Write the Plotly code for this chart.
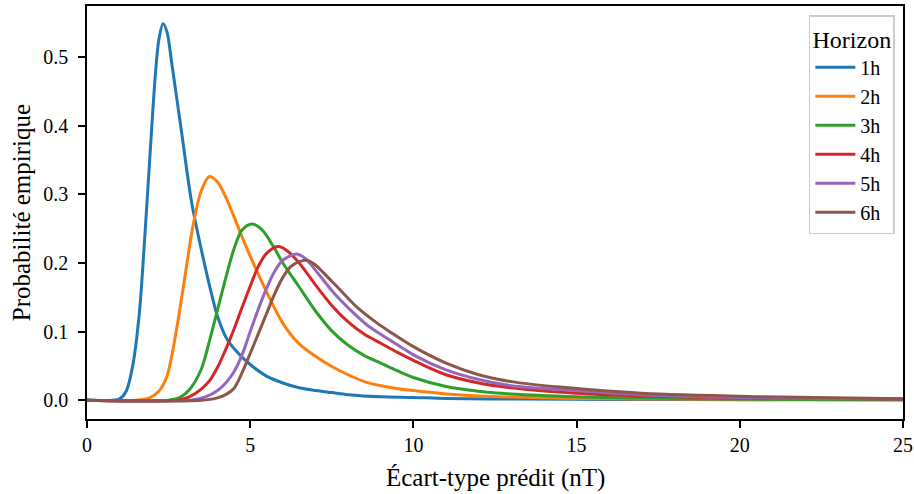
import plotly.graph_objects as go

x_1h = [0, 0.8, 1.0, 1.2, 1.4, 1.6, 1.8, 2.0, 2.1, 2.2, 2.33, 2.45, 2.6, 2.75, 2.9, 3.2, 3.5, 3.8, 4.0,
        4.3, 4.7, 5.0, 5.5, 6.0, 6.5, 7.0, 7.5, 8.0, 9.0, 10, 11, 13, 16, 20, 25]
y_1h = [0, 0, 0.002, 0.013, 0.05, 0.125, 0.26, 0.41, 0.478, 0.525, 0.549, 0.537, 0.49, 0.44, 0.39,
        0.29, 0.22, 0.158, 0.122, 0.088, 0.065, 0.052, 0.035, 0.025, 0.018, 0.014, 0.011, 0.008,
        0.005, 0.004, 0.0025, 0.0015, 0.001, 0.0007, 0.0005]

x_2h = [0, 1.5, 1.9, 2.2, 2.45, 2.75, 3.0, 3.25, 3.5, 3.75, 4.0, 4.25, 4.5, 4.75, 5.0, 5.5, 6.0, 6.5,
        7.0, 7.5, 8.0, 8.5, 9.0, 9.5, 10, 11, 12, 13, 15, 18, 22, 25]
y_2h = [0, 0, 0.003, 0.013, 0.035, 0.105, 0.18, 0.255, 0.305, 0.326, 0.318, 0.296, 0.268, 0.238,
        0.21, 0.158, 0.112, 0.082, 0.064, 0.049, 0.037, 0.027, 0.021, 0.017, 0.014, 0.009, 0.006,
        0.0045, 0.0025, 0.0015, 0.001, 0.0007]

x_3h = [0, 2.5, 2.85, 3.15, 3.5, 3.75, 4.0, 4.25, 4.5, 4.75, 5.05, 5.35, 5.7, 6.0, 6.5, 7.0, 7.5,
        8.0, 8.5, 9.0, 9.5, 10, 11, 12, 13, 15, 17, 20, 25]
y_3h = [0, 0, 0.004, 0.016, 0.045, 0.086, 0.132, 0.178, 0.22, 0.248, 0.257, 0.249, 0.225, 0.2,
        0.165, 0.13, 0.101, 0.08, 0.065, 0.054, 0.043, 0.033, 0.02, 0.013, 0.009, 0.005, 0.003,
        0.0015, 0.0007]

x_4h = [0, 2.8, 3.15, 3.5, 3.75, 4.0, 4.25, 4.5, 4.75, 5.0, 5.25, 5.5, 5.86, 6.1, 6.5, 7.0, 7.5, 8.0,
        8.5, 9.0, 9.5, 10, 11, 12, 13, 15, 17, 20, 25]
y_4h = [0, 0, 0.005, 0.016, 0.028, 0.048, 0.074, 0.103, 0.135, 0.166, 0.195, 0.214, 0.224, 0.219,
        0.2, 0.168, 0.138, 0.114, 0.096, 0.083, 0.07, 0.058, 0.037, 0.025, 0.018, 0.01, 0.006, 0.003,
        0.0015]

x_5h = [0, 3.2, 3.65, 4.0, 4.25, 4.5, 4.75, 5.0, 5.25, 5.5, 5.75, 6.0, 6.42, 6.7, 7.04, 7.55, 8.06,
        8.57, 9.0, 9.6, 10, 11, 12, 13, 15, 17, 20, 25]
y_5h = [0, 0, 0.005, 0.014, 0.025, 0.041, 0.066, 0.1, 0.133, 0.163, 0.188, 0.204, 0.213, 0.206,
        0.187, 0.157, 0.132, 0.11, 0.096, 0.078, 0.066, 0.044, 0.03, 0.021, 0.014, 0.008, 0.004,
        0.002]

x_6h = [0, 3.5, 3.97, 4.25, 4.5, 4.75, 5.0, 5.25, 5.5, 5.75, 6.0, 6.25, 6.5, 6.73, 7.0, 7.24, 7.75,
        8.26, 8.87, 9.3, 10, 11, 12, 13, 14.5, 17, 20.6, 25]
y_6h = [0, 0, 0.003, 0.008, 0.017, 0.04, 0.068, 0.097, 0.126, 0.155, 0.179, 0.195, 0.202, 0.204,
        0.197, 0.186, 0.161, 0.136, 0.113, 0.099, 0.078, 0.054, 0.037, 0.027, 0.019, 0.01, 0.005,
        0.002]

series_names = ["1h", "2h", "3h", "4h", "5h", "6h"]
series_x = [x_1h, x_2h, x_3h, x_4h, x_5h, x_6h]
series_y = [y_1h, y_2h, y_3h, y_4h, y_5h, y_6h]
colors = ["#1f77b4", "#ff7f0e", "#2ca02c", "#d62728", "#9467bd", "#8c564b"]

x_ticks = [0, 5, 10, 15, 20, 25]
y_ticks = [0.0, 0.1, 0.2, 0.3, 0.4, 0.5]

x_label = "Écart-type prédit (nT)"
y_label = "Probabilité empirique"

FONT = "Liberation Serif, Times New Roman, serif"

fig = go.Figure()
for name, xs, ys, c in zip(series_names, series_x, series_y, colors):
    fig.add_trace(go.Scatter(x=xs, y=ys, name=name, mode="lines",
                             line=dict(color=c, width=3, shape="spline", smoothing=0.9)))

axis_common = dict(showline=True, linecolor="black", linewidth=1.5, mirror=True,
                   ticks="outside", ticklen=7, tickwidth=1.5, tickcolor="black",
                   showgrid=False, zeroline=False, automargin=False,
                   tickfont=dict(family=FONT, size=20, color="black"))

fig.update_xaxes(range=[0, 25], tickvals=x_ticks, ticklabelstandoff=0,
                 ticklabeloverflow="allow", **axis_common)
fig.update_yaxes(range=[-0.0275, 0.5747], tickvals=y_ticks, tickformat=".1f",
                 ticklabelstandoff=6, **axis_common)

fig.add_annotation(text=x_label, xref="paper", yref="paper", x=0.5, y=-0.143,
                   xanchor="center", yanchor="middle", showarrow=False,
                   font=dict(family=FONT, size=25, color="black"))
fig.add_annotation(text=y_label, xref="paper", yref="paper", x=-0.08, y=0.5,
                   xanchor="center", yanchor="middle", textangle=-90, showarrow=False,
                   font=dict(family=FONT, size=25, color="black"))

fig.update_layout(
    width=914, height=494,
    margin=dict(l=87, r=11, t=6, b=75),
    plot_bgcolor="white", paper_bgcolor="white",
    font=dict(family=FONT, color="black"),
    hovermode=False,
    legend=dict(x=0.99, y=0.978, xanchor="right", yanchor="top",
                bgcolor="rgba(255,255,255,0.8)", bordercolor="#cccccc", borderwidth=1.5,
                font=dict(family=FONT, size=20, color="black"),
                title=dict(text="Horizon", side="top center",
                           font=dict(family=FONT, size=24, color="black")),
                itemwidth=40),
)

# remove the default page margin so the 914x494 figure fills the window exactly
fig.write_html("out.html", config={"displayModeBar": False},
               post_script="document.body.style.margin='0';document.body.style.overflow='hidden';")
